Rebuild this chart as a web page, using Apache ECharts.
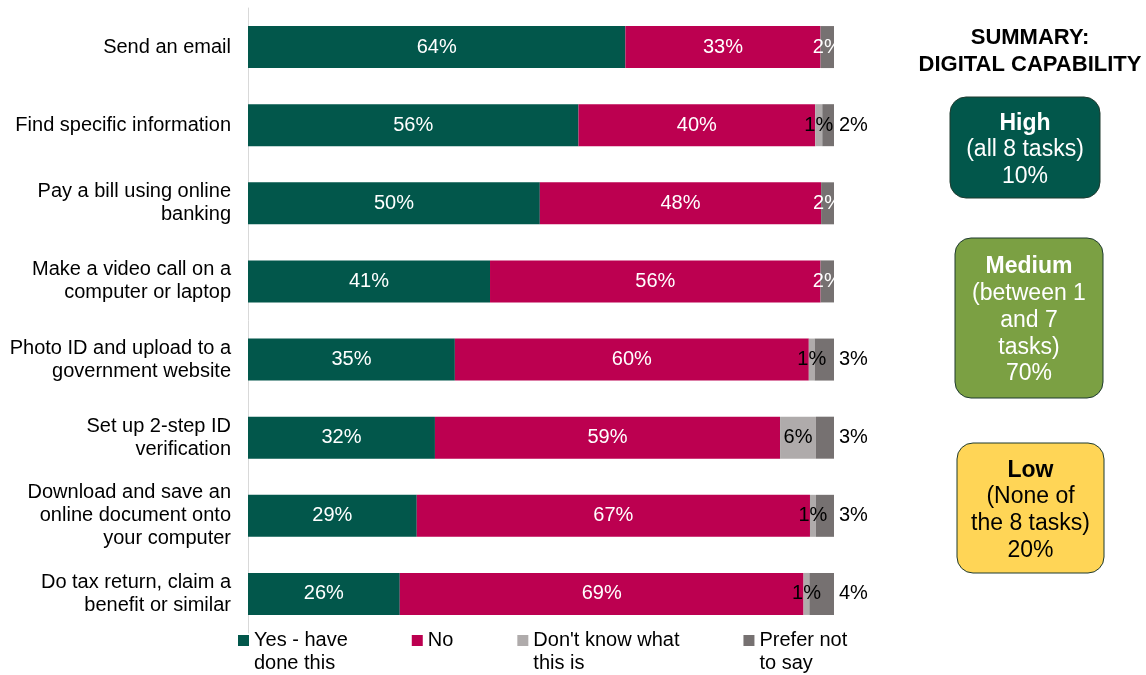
<!DOCTYPE html>
<html>
<head>
<meta charset="utf-8">
<script src="https://cdn.jsdelivr.net/npm/echarts@6/dist/echarts.min.js"></script>
<style>
  html, body { margin: 0; padding: 0; background: #fff; }
  #chart { width: 1146px; height: 675px; }
</style>
</head>
<body>
<div id="chart"></div>
<script>
// Survey tasks (top to bottom)
const categories = [
  'Send an email',
  'Find specific information',
  'Pay a bill using online\nbanking',
  'Make a video call on a\ncomputer or laptop',
  'Photo ID and upload to a\ngovernment website',
  'Set up 2-step ID\nverification',
  'Download and save an\nonline document onto\nyour computer',
  'Do tax return, claim a\nbenefit or similar'
];

// Share of respondents (%) per answer
const yesDone    = [64.4, 56.4, 49.8, 41.3, 35.3, 31.9, 28.8, 25.9];
const noAnswer   = [33.3, 40.4, 48.0, 56.4, 60.4, 58.9, 67.1, 68.9];
const dontKnow   = [0.0,  1.2,  0.0,  0.0,  1.0,  6.1,  1.0,  1.0];
const preferNot  = [2.3,  2.0,  2.2,  2.3,  3.3,  3.1,  3.1,  4.2];

const seriesNames = ['Yes - have done this', 'No', "Don't know what this is", 'Prefer not to say'];
const legendLabels = ['Yes - have\ndone this', 'No', "Don't know what\nthis is", 'Prefer not\nto say'];

// Summary of digital capability
const summaryTitle = 'SUMMARY:\nDIGITAL CAPABILITY';
const summaryLevels = ['High', 'Medium', 'Low'];
const summaryDesc = ['(all 8 tasks)', '(between 1\nand 7\ntasks)', '(None of\nthe 8 tasks)'];
const summaryShare = [10, 70, 20];

const FONT = '"Liberation Sans", Arial, sans-serif';
const FS = 20;
const colors = ['#02574B', '#BC0050', '#AFABAB', '#767171'];

const pct = v => Math.round(v) + '%';

function buildPreferData() {
  return preferNot.map((v, i) => {
    // When a "don't know" slice sits next to it, the label moves outside the bar
    if (dontKnow[i] > 0) {
      return { value: v, label: { position: 'right', distance: 5, color: '#000' } };
    }
    return { value: v };
  });
}

function buildSummary() {
  const boxes = [
    { x: 950, y: 97, w: 150, h: 101, fill: '#02574B', text: '#fff' },
    { x: 955, y: 238, w: 148, h: 160, fill: '#7BA043', text: '#fff' },
    { x: 957, y: 443, w: 147, h: 130, fill: '#FFD556', text: '#000' }
  ];
  const els = [];
  els.push({
    type: 'text',
    style: {
      text: summaryTitle, x: 1030, y: 24, align: 'center', verticalAlign: 'top',
      fontFamily: FONT, fontWeight: 'bold', fontSize: 22, fill: '#000', lineHeight: 27.5
    }
  });
  boxes.forEach((b, i) => {
    els.push({
      type: 'rect',
      shape: { x: b.x, y: b.y, width: b.w, height: b.h, r: 16 },
      style: { fill: b.fill, stroke: '#1E3A2F', lineWidth: 1 }
    });
    const descLines = summaryDesc[i].split('\n').map(s => '{n|' + s + '}').join('\n');
    els.push({
      type: 'text',
      style: {
        text: '{b|' + summaryLevels[i] + '}\n' + descLines + '\n{n|' + summaryShare[i] + '%}',
        x: b.x + b.w / 2, y: b.y + b.h / 2 + 2.5,
        align: 'center', verticalAlign: 'middle',
        fill: b.text,
        rich: {
          b: { fontFamily: FONT, fontWeight: 'bold', fontSize: 23, lineHeight: 26.8, fill: b.text, align: 'center' },
          n: { fontFamily: FONT, fontSize: 23, lineHeight: 26.8, fill: b.text, align: 'center' }
        }
      }
    });
  });
  return els;
}

const chart = echarts.init(document.getElementById('chart'), null, { renderer: 'canvas' });

const labelBase = { show: true, fontFamily: FONT, fontSize: FS, formatter: p => pct(p.value) };

// Legend swatch: an 11px square sitting on the first text line of a two-line item
const LEGEND_ICON = 'path://M0,0H11V11H0Z M0,34';

const option = {
  animation: false,
  textStyle: { fontFamily: FONT },
  grid: { left: 248, right: 312, top: 8, height: 625 },
  xAxis: {
    type: 'value', min: 0, max: 100, show: false
  },
  yAxis: {
    type: 'category',
    data: categories,
    inverse: true,
    axisLine: { show: true, lineStyle: { color: '#D9D9D9', width: 1 } },
    axisTick: { show: false },
    axisLabel: { color: '#000', fontFamily: FONT, fontSize: FS, lineHeight: 23, margin: 17 }
  },
  legend: {
    left: 238, top: 629, padding: 0,
    itemWidth: 11, itemHeight: 34, itemGap: 64,
    icon: LEGEND_ICON,
    textStyle: { color: '#000', fontFamily: FONT, fontSize: FS, lineHeight: 23 },
    data: seriesNames,
    formatter: name => {
      const t = legendLabels[seriesNames.indexOf(name)];
      return t.indexOf('\n') < 0 ? t + '\n ' : t;
    }
  },
  series: [
    {
      name: seriesNames[0], type: 'bar', stack: 'all', barWidth: 42,
      itemStyle: { color: colors[0] },
      label: Object.assign({}, labelBase, { position: 'inside', color: '#fff' }),
      data: yesDone
    },
    {
      name: seriesNames[1], type: 'bar', stack: 'all', barWidth: 42,
      itemStyle: { color: colors[1] },
      label: Object.assign({}, labelBase, { position: 'inside', color: '#fff' }),
      data: noAnswer
    },
    {
      name: seriesNames[2], type: 'bar', stack: 'all', barWidth: 42,
      itemStyle: { color: colors[2] },
      label: Object.assign({}, labelBase, {
        position: 'inside', color: '#000',
        formatter: p => (p.value > 0 ? pct(p.value) : '')
      }),
      data: dontKnow
    },
    {
      name: seriesNames[3], type: 'bar', stack: 'all', barWidth: 42,
      itemStyle: { color: colors[3] },
      label: Object.assign({}, labelBase, { position: 'inside', color: '#fff' }),
      data: buildPreferData()
    }
  ],
  graphic: buildSummary()
};

chart.setOption(option);
</script>
</body>
</html>
